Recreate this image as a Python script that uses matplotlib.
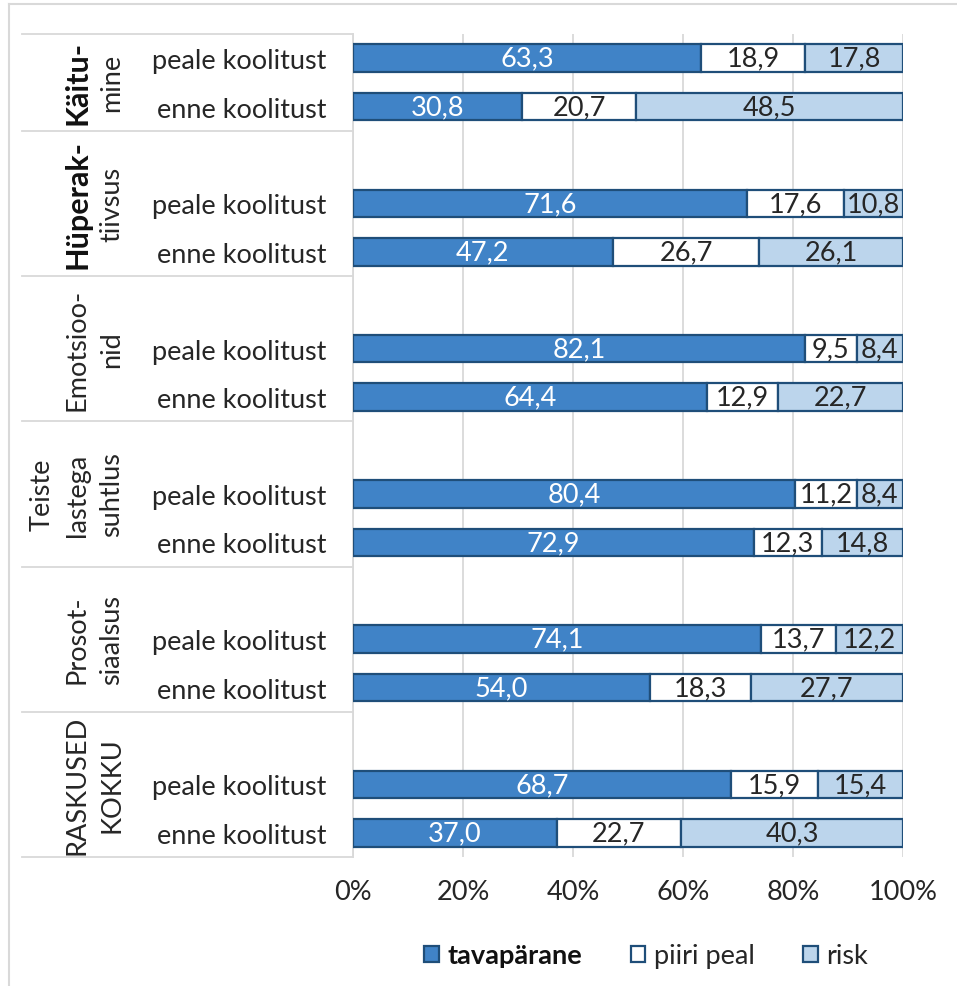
import numpy as np
import matplotlib.pyplot as plt
from matplotlib.lines import Line2D
from matplotlib.patches import Patch
import matplotlib.transforms as mtransforms

plt.rcParams['font.family'] = ['Lato', 'DejaVu Sans']

groups = [["Käitu-", "mine"],
          ["Hüperak-", "tiivsus"],
          ["Emotsioo-", "nid"],
          ["Teiste", "lastega", "suhtlus"],
          ["Prosot-", "siaalsus"],
          ["RASKUSED", "KOKKU"]]
bold_first = [True, True, False, False, False, False]
rows = ["peale koolitust", "enne koolitust"]
series = ["tavapärane", "piiri peal", "risk"]

# per group: (peale, enne)
tavaparane = [(63.3, 30.8), (71.6, 47.2), (82.1, 64.4), (80.4, 72.9), (74.1, 54.0), (68.7, 37.0)]
piiri_peal = [(18.9, 20.7), (17.6, 26.7), (9.5, 12.9), (11.2, 12.3), (13.7, 18.3), (15.9, 22.7)]
risk = [(17.8, 48.5), (10.8, 26.1), (8.4, 22.7), (8.4, 14.8), (12.2, 27.7), (15.4, 40.3)]

colors = ['#4083C7', '#FFFFFF', '#BCD5EC']
edge = '#1F4E79'
txtcol = ['white', '#262626', '#262626']
fs = 19.5

W, H = 957, 987
fig = plt.figure(figsize=(W / 100, H / 100), dpi=100)
ax = fig.add_axes([353 / W, 1 - 858 / H, 550 / W, 823 / H])

# slot layout: bottom group first; each group except the top one has an empty slot above
n = len(groups)
ypos, labels, vals = [], [], []
bounds = [-0.5]
for k in range(n):
    g = n - 1 - k
    base = 3 * k
    ypos += [base + 1, base]
    labels += rows
    vals += [(tavaparane[g][0], piiri_peal[g][0], risk[g][0]),
             (tavaparane[g][1], piiri_peal[g][1], risk[g][1])]
    bounds.append(base + 2.5 if g > 0 else base + 1.5)
ypos = np.array(ypos, dtype=float)
vals = np.array(vals)

left = np.zeros(len(ypos))
for i, s in enumerate(series):
    ax.barh(ypos, vals[:, i], left=left, height=0.57, color=colors[i],
            edgecolor=edge, linewidth=1.6, label=s, zorder=3)
    for y, l, v in zip(ypos, left, vals[:, i]):
        ax.text(l + v / 2, y, f"{v:.1f}".replace('.', ','), ha='center', va='center',
                color=txtcol[i], fontsize=fs, zorder=4)
    left += vals[:, i]

ax.set_xlim(0, 100)
ax.set_ylim(bounds[0], bounds[-1])
ax.set_yticks(ypos)
ax.set_yticklabels(labels, fontsize=fs, color='#262626')
ax.tick_params(axis='y', length=0, pad=19)
ax.set_xticks(np.arange(0, 101, 20))
ax.set_xticklabels([f"{t}%" for t in range(0, 101, 20)], fontsize=fs, color='#262626')
ax.tick_params(axis='x', length=0, pad=16)
ax.xaxis.grid(True, color='#D9D9D9', linewidth=1.3, zorder=0)
for sp in ['top', 'right', 'bottom']:
    ax.spines[sp].set_visible(False)
ax.spines['left'].set_color('#D9D9D9')
ax.spines['left'].set_linewidth(1.3)

# group separators and group labels
trans = mtransforms.blended_transform_factory(ax.transAxes, ax.transData)
x0 = (22 - 353) / 550
for b in bounds:
    ax.add_line(Line2D([x0, 0], [b, b], transform=trans, color='#D9D9D9',
                       linewidth=1.3, clip_on=False))
for k in range(n):
    g = n - 1 - k
    yc = (bounds[k] + bounds[k + 1]) / 2
    lines = groups[g]
    for j, t in enumerate(lines):
        xp = 112 - 35 * (len(lines) - 1 - j)
        bold = bold_first[g] and j == 0
        ax.text((xp - 353) / 550, yc, t, transform=trans, rotation=90,
                ha='center', va='center', fontsize=22 if bold else fs,
                fontweight='bold' if bold else 'normal',
                color='#111111' if bold else '#262626', clip_on=False)

# outer frame (only left and top visible)
fig.add_artist(Line2D([9 / W, 9 / W], [0, 1 - 5 / H], color='#D9D9D9', linewidth=1.5))
fig.add_artist(Line2D([9 / W, 1], [1 - 5 / H, 1 - 5 / H], color='#D9D9D9', linewidth=1.5))

handles = [Patch(facecolor=colors[i], edgecolor=edge, linewidth=1.6) for i in range(3)]
leg = fig.legend(handles, series, loc='center', bbox_to_anchor=(646 / W, 1 - 957 / H),
                 ncol=3, frameon=False, fontsize=fs, handlelength=0.55, handleheight=0.55,
                 handletextpad=0.3, columnspacing=1.8)
for t in leg.get_texts():
    t.set_color('#262626')
leg.get_texts()[0].set_fontweight('bold')
leg.get_texts()[0].set_color('#111111')

fig.savefig('out.png', dpi=100)
